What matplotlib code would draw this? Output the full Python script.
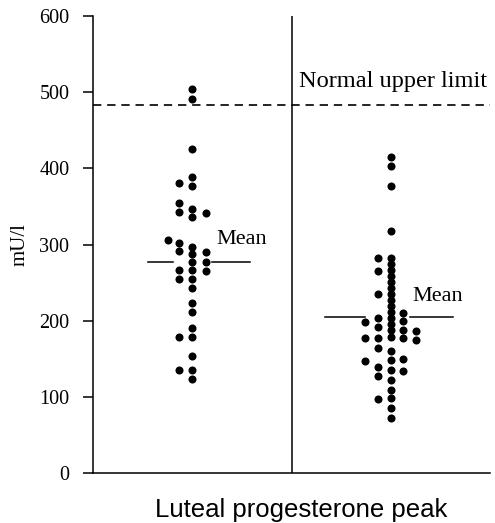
import matplotlib
matplotlib.use("Agg")
import matplotlib.pyplot as plt

# values (mU/l), one list per dot column
# group 1 (left), column index -> values
left_cols = {
    -1.8: [306],
    -1: [381, 354, 343, 302, 291, 267, 255, 179, 135],
    0: [504, 491, 425, 389, 377, 347, 336, 297, 288, 277, 267, 255, 243,
        223, 211, 190, 179, 154, 135, 123],
    1: [341, 290, 277, 265],
}
# group 2 (right)
right_cols = {
    -2: [198, 177, 147],
    -1: [282, 265, 235, 203, 192, 177, 164, 139, 127, 97],
    0: [415, 403, 377, 318, 282, 274, 267, 259, 251, 243, 235, 227, 219,
        211, 203, 196, 188, 179, 160, 148, 135, 122, 109, 98, 85, 72],
    1: [210, 200, 188, 177, 150, 134],
    2: [186, 175],
}
means = [277, 205]
upper_limit = 483
yticks = [0, 100, 200, 300, 400, 500, 600]

fig = plt.figure(figsize=(4.95, 5.23), dpi=100)
ax = fig.add_axes([93 / 495, 50 / 523, 397 / 495, 457 / 523])

serif = "Liberation Serif"

# dots
for center, cols, step in [(0.5, left_cols, 0.068), (1.5, right_cols, 0.064)]:
    for c, vals in cols.items():
        ax.plot([center + c * step] * len(vals), vals, "o", color="black",
                ms=5.8, mec="black", mew=0, zorder=3)

# mean lines (broken around the dots)
ax.plot([0.5 - 0.223, 0.5 - 0.097], [means[0]] * 2, color="black", lw=1.1)
ax.plot([0.5 + 0.100, 0.5 + 0.291], [means[0]] * 2, color="black", lw=1.1)
ax.plot([1.5 - 0.331, 1.5 - 0.130], [means[1]] * 2, color="black", lw=1.1)
ax.plot([1.5 + 0.097, 1.5 + 0.314], [means[1]] * 2, color="black", lw=1.1)
ax.text(0.622, means[0] + 30, "Mean", fontsize=16, family=serif, va="center", ha="left")
ax.text(1.608, means[1] + 27, "Mean", fontsize=16, family=serif, va="center", ha="left")

# normal upper limit
ax.axhline(upper_limit, color="black", lw=1.2, ls=(0, (5, 3.5)))
ax.text(1.04, upper_limit + 31, "Normal upper limit", fontsize=17.6, family=serif,
        va="center", ha="left")

# divider between groups
ax.axvline(1.0, color="black", lw=1.1)

ax.set_xlim(0, 2)
ax.set_ylim(0, 600)
ax.set_yticks(yticks)
ax.set_yticklabels([str(t) for t in yticks], family=serif, fontsize=14.5)
ax.set_xticks([])
ax.tick_params(axis="y", length=7, width=1.1, pad=10)
for s in ["top", "right"]:
    ax.spines[s].set_visible(False)
for s in ["left", "bottom"]:
    ax.spines[s].set_linewidth(1.1)

ax.set_ylabel("mU/l", family=serif, fontsize=15, labelpad=7)
fig.text(301 / 495, 1 - 510 / 523, "Luteal progesterone peak", family="Liberation Sans",
         fontsize=18.5, ha="center", va="center")

fig.savefig("out.png", dpi=100)
